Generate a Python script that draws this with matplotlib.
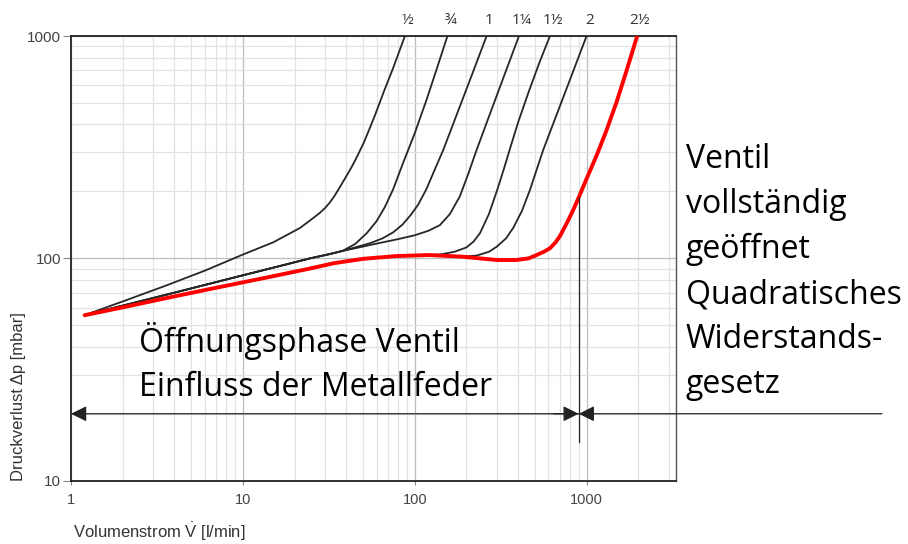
import numpy as np
import matplotlib
matplotlib.use("Agg")
import matplotlib.pyplot as plt
from matplotlib.ticker import NullFormatter

plt.rcParams['mathtext.fontset'] = 'custom'
plt.rcParams['mathtext.rm'] = 'Liberation Sans'
plt.rcParams['mathtext.it'] = 'Liberation Sans:italic'

# Nominal valve sizes (inch), one pressure-loss curve per size
sizes = ['½', '¾', '1', '1¼', '1½', '2', '2½']

# Volume flow [l/min] / pressure loss [mbar] for each size
flow_12 = [1.2, 2, 3.5, 6, 10, 15, 21.5, 24, 26, 28, 30, 32, 34, 36, 38.4, 41, 43, 46, 50.4,
           54, 58.7, 66, 75, 87.7]
dp_12 = [55.5, 64, 75, 88, 104, 118, 137, 146, 153, 160, 168, 178, 190, 204, 222, 242, 258, 285, 330,
         375, 440, 560, 720, 1000]

flow_34 = [1.2, 2, 3.5, 6, 10, 16, 24.6, 32, 38, 45, 52.5, 60, 67, 75, 85, 100, 117, 135, 155]
dp_34 = [55.5, 61.3, 68.3, 75.9, 83.9, 91.9, 100, 104.5, 108, 116, 129.6, 147, 170, 205, 265, 365, 515, 720, 1000]

flow_1 = [1.2, 2, 3.5, 6, 10, 16, 24.6, 32, 38, 45, 55, 65, 75, 85, 95, 105, 117, 130, 146.5, 180, 220, 262]
dp_1 = [55.5, 61.3, 68.3, 75.9, 83.9, 91.9, 100, 104.5, 108, 112, 117, 123, 131, 142, 157, 175, 205, 248, 307, 466, 700, 1000]

flow_114 = [1.2, 2, 3.5, 6, 10, 16, 24.6, 32, 38, 45, 60, 80, 100, 120, 140, 160, 183, 205, 229, 280, 340, 404]
dp_114 = [55.5, 61.3, 68.3, 75.9, 83.9, 91.9, 100, 104.5, 108, 111, 116.5, 122, 127, 133, 141, 158, 190, 240, 307, 467, 699, 1000]

flow_112 = [1.2, 2, 3.5, 6, 10, 16, 24.6, 33.6, 50, 78, 122, 140, 170, 200, 220, 240, 270, 300, 330, 360, 400, 460, 530, 612]
dp_112 = [55.5, 60.2, 66, 72, 78, 84, 90, 95, 99.5, 102.4, 103.5, 104, 107, 112, 119, 130, 158, 200, 252, 315, 410, 560, 755, 1000]

flow_2 = [1.2, 2, 3.5, 6, 10, 16, 24.6, 33.6, 50, 78, 122, 190, 230, 270, 300, 340, 374, 420, 468, 510, 559, 680, 820, 1000]
dp_2 = [55.5, 60.2, 66, 72, 78, 84, 90, 95, 99.5, 102.4, 103.5, 101.7, 103, 107, 112.8, 123, 137, 163, 203, 248, 307, 457, 668, 1000]

flow_212 = [1.2, 2, 3.5, 6, 10, 16, 24.6, 33.6, 50, 78, 122, 190, 300, 390, 460, 512, 570, 612,
            660, 700, 760, 830, 900, 1000, 1143, 1300, 1495, 1700, 1970]
dp_212 = [55.5, 60.2, 66, 72, 78, 84, 90, 95, 99.5, 102.4, 103.5, 101.7, 98.3, 98.3, 100, 103.5, 107.5, 111,
          118, 126, 142, 163, 188, 228, 290, 373, 505, 690, 1000]

x_ticks = [1, 10, 100, 1000]
x_tick_labels = ['1', '10', '100', '1000']
y_ticks = [10, 100, 1000]
y_tick_labels = ['10', '100', '1000']

open_flow = 900      # flow at which the valve is fully open [l/min]
marker_dp = 20       # height of the phase arrows [mbar]
marker_bottom = 15   # lower end of the phase divider [mbar]

opening_text = ['Öffnungsphase Ventil', 'Einfluss der Metallfeder']
open_text = ['Ventil', 'vollständig', 'geöffnet', 'Quadratisches', 'Widerstands-', 'gesetz']

W, H = 908, 544
fig = plt.figure(figsize=(W / 100, H / 100), dpi=100)
ax = fig.add_axes([71 / W, 1 - 480.7 / H, (675.7 - 71) / W, (480.7 - 36) / H])
ax.set_xscale('log')
ax.set_yscale('log')
ax.set_xlim(1, 3300)
ax.set_ylim(10, 1000)

ax.set_axisbelow(True)
ax.grid(which='minor', color='#e2e2e2', lw=0.9)
ax.grid(which='major', color='#bcbcbc', lw=0.9)
ax.xaxis.set_minor_formatter(NullFormatter())
ax.yaxis.set_minor_formatter(NullFormatter())
ax.set_xticks(x_ticks, x_tick_labels)
ax.set_yticks(y_ticks, y_tick_labels)
ax.tick_params(which='minor', length=0)
ax.tick_params(axis='x', which='major', length=3, width=0.8, color='#888888', pad=6,
               labelsize=10.5, labelcolor='#444444')
ax.tick_params(axis='y', which='major', length=5.5, width=0.8, color='#888888', pad=1.5,
               labelsize=11, labelcolor='#444444')
for lab in ax.get_xticklabels() + ax.get_yticklabels():
    lab.set_fontfamily(['Liberation Sans', 'DejaVu Sans'])

for side in ['left', 'bottom', 'top']:
    ax.spines[side].set_color('#222222')
    ax.spines[side].set_linewidth(1.3)
ax.spines['right'].set_color('#555555')
ax.spines['right'].set_linewidth(1.0)

black_curves = [(flow_12, dp_12), (flow_34, dp_34), (flow_1, dp_1), (flow_114, dp_114),
                (flow_112, dp_112), (flow_2, dp_2)]
for fx, fy in black_curves:
    ax.plot(fx, fy, color='#262626', lw=1.3, solid_capstyle='round', solid_joinstyle='round', zorder=3)
ax.plot(flow_212, dp_212, color='#ff0000', lw=2.8, solid_capstyle='round', solid_joinstyle='round', zorder=4)

# size labels above the upper end of each curve
for label, (fx, fy) in zip(sizes, black_curves + [(flow_212, dp_212)]):
    ax.annotate(label, xy=(fx[-1], fy[-1]), xytext=(2, 11), textcoords='offset points',
                ha='center', va='center', fontsize=11, color='#333333',
                family=['Open Sans', 'DejaVu Sans'], annotation_clip=False)

# phase divider: vertical line from the red curve down, arrows on both sides
top_dp = 10 ** np.interp(np.log10(open_flow), np.log10(flow_212), np.log10(dp_212))
ax.plot([open_flow, open_flow], [marker_bottom, top_dp], color='#222222', lw=0.9,
        clip_on=False, zorder=5)
arrow = dict(arrowstyle='-|>,head_length=0.95,head_width=0.47', mutation_scale=10,
             color='#222222', lw=0.9, shrinkA=0, shrinkB=0)
ax.annotate('', xy=(1, marker_dp), xytext=(open_flow, marker_dp), arrowprops=arrow,
            annotation_clip=False)
ax.annotate('', xy=(open_flow, marker_dp), xytext=(open_flow / 1.4, marker_dp),
            arrowprops=arrow, annotation_clip=False)
ax.annotate('', xy=(open_flow, marker_dp), xytext=(1.341, marker_dp),
            textcoords=ax.get_yaxis_transform(), arrowprops=arrow, annotation_clip=False)


def px(x, y):
    return x / W, 1 - y / H


big_font = dict(family=['Open Sans', 'DejaVu Sans'], fontsize=23, color='black', va='baseline', ha='left')
for i, line in enumerate(opening_text):
    fig.text(*px(139, 351.7 + 44 * i), line, **big_font)
for i, line in enumerate(open_text):
    fig.text(*px(686, 168.3 + 45 * i), line, **big_font)

fig.text(*px(18.3, 396.7), 'Druckverlust Δp [mbar]', rotation=90, ha='center', va='center',
         fontsize=12, color='#333333', family=['Liberation Sans', 'DejaVu Sans'])
fig.text(*px(73, 532.3), r'Volumenstrom $\dot{\mathrm{V}}$ [l/min]', ha='left', va='center',
         fontsize=12, color='#333333', family=['Liberation Sans', 'DejaVu Sans'])

fig.savefig('out.png', dpi=100)
